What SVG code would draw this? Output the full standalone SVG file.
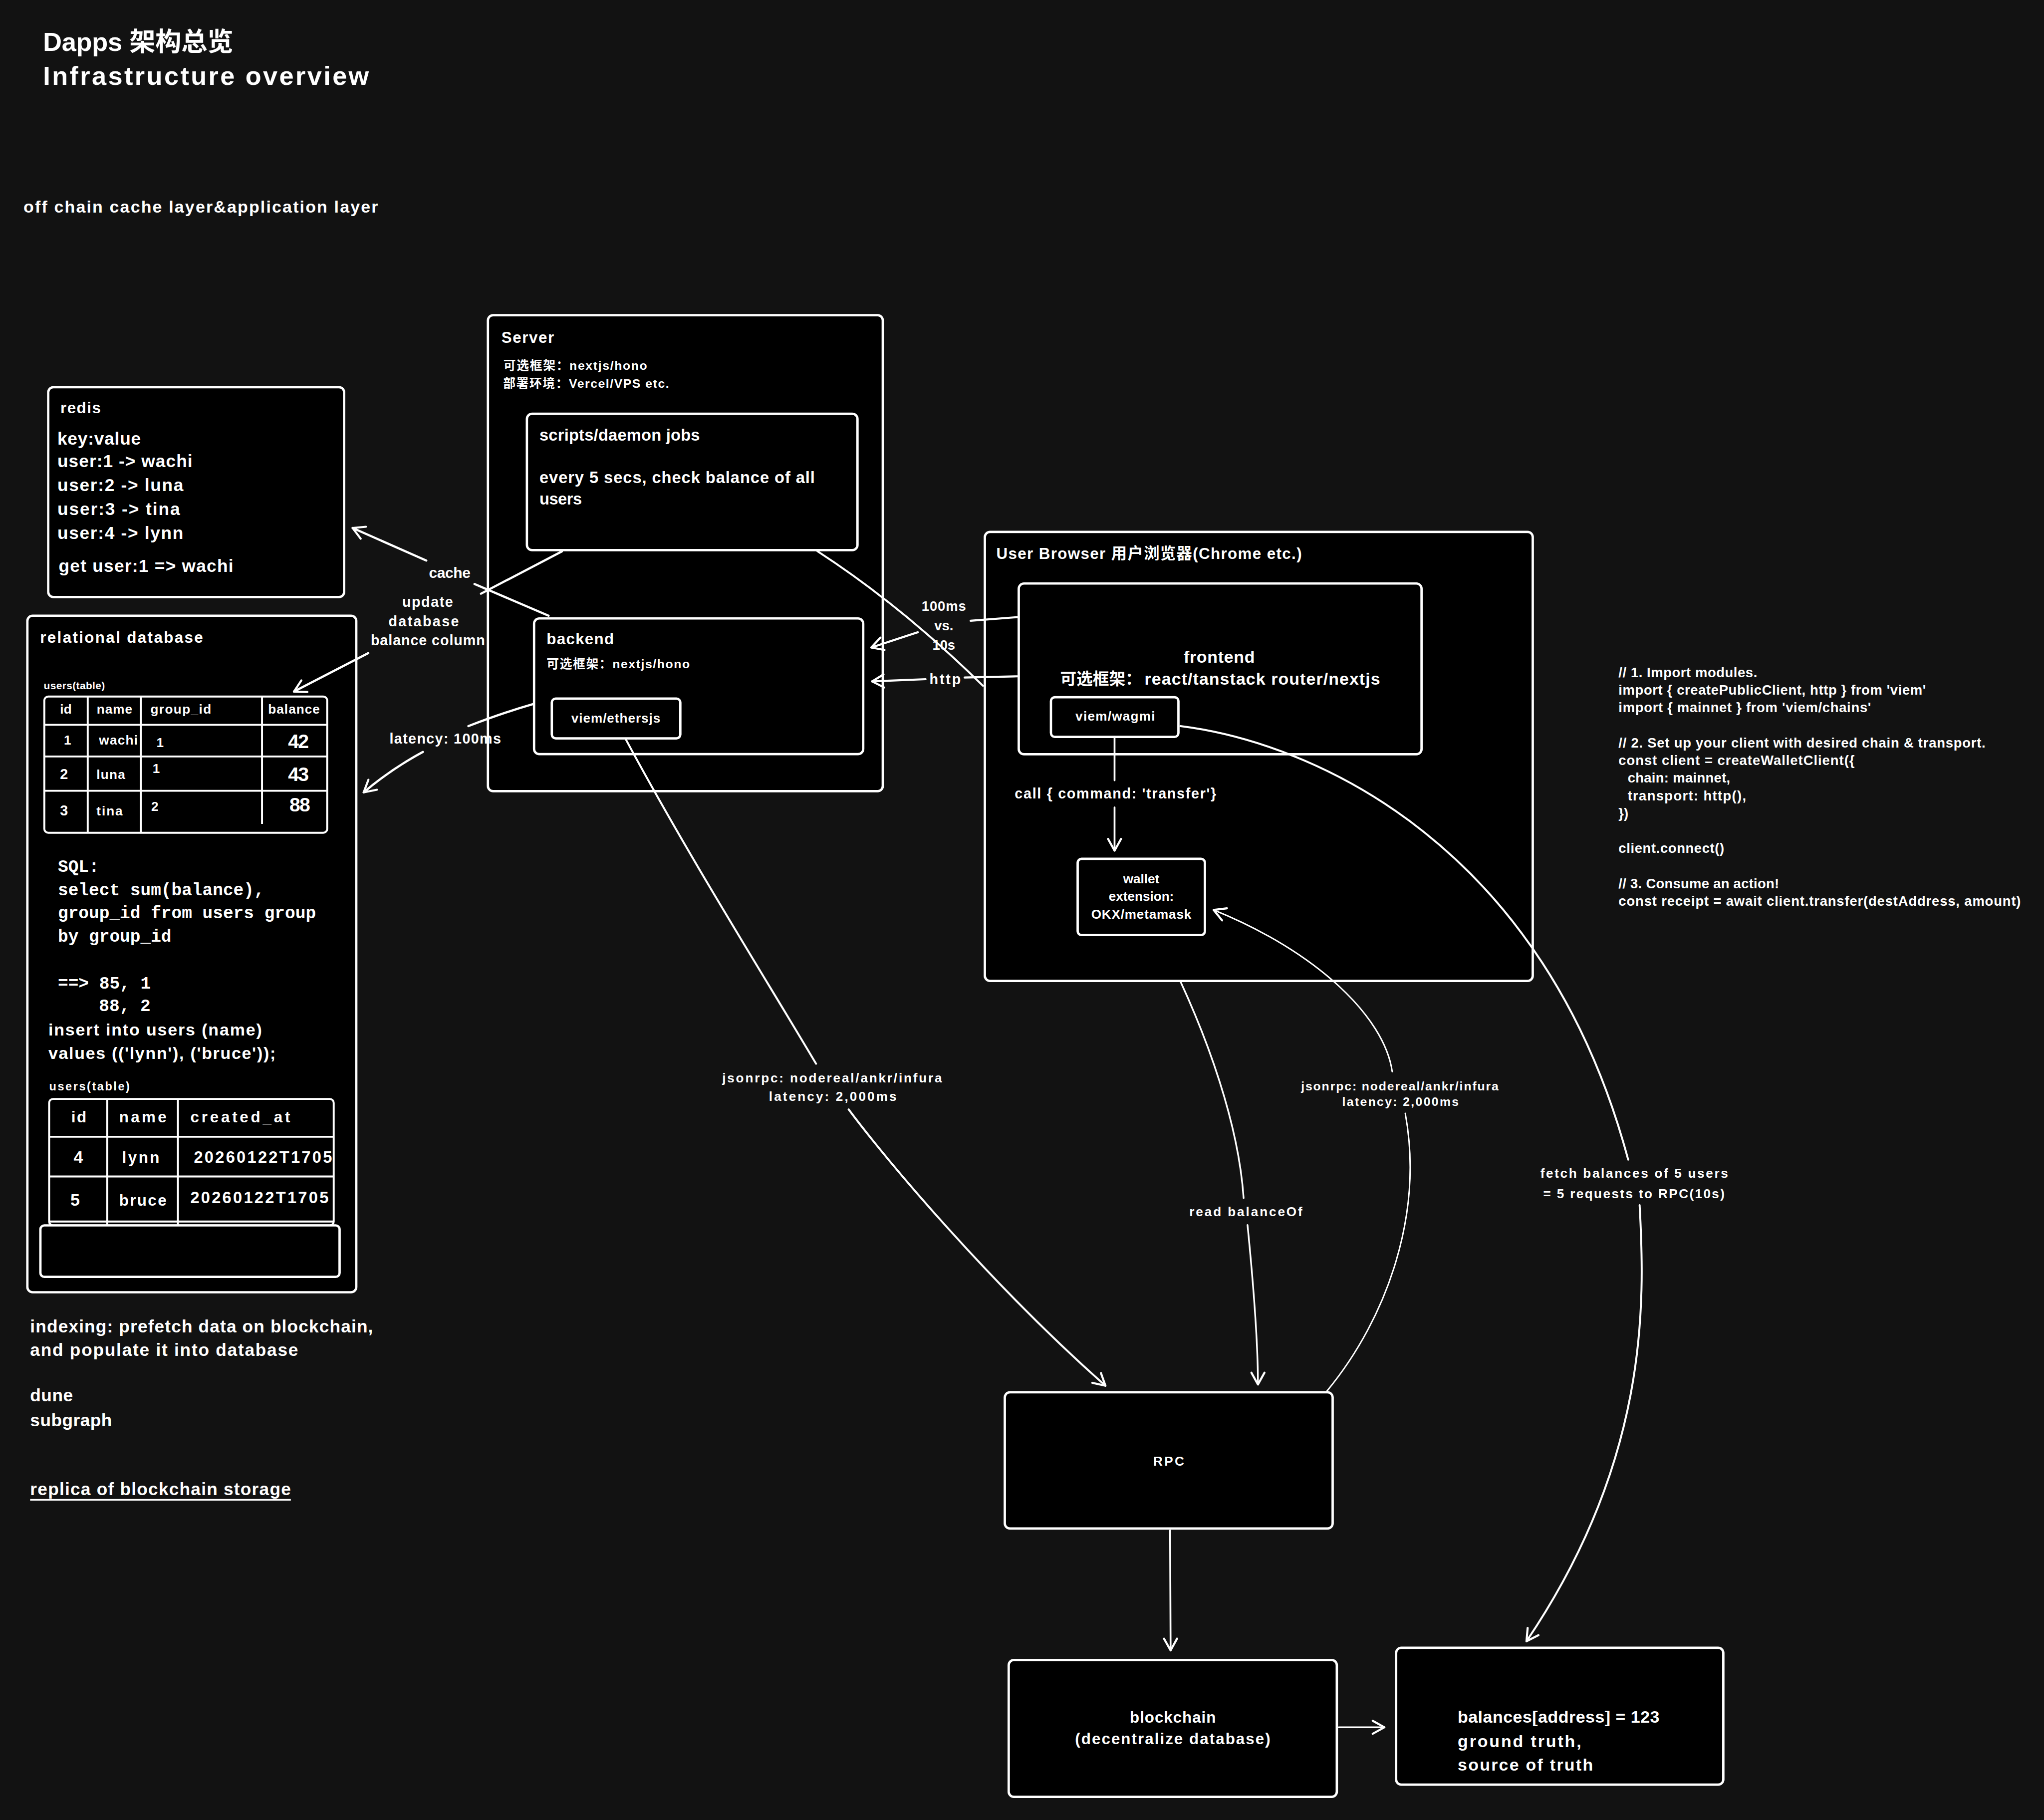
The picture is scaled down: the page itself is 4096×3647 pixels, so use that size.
<svg xmlns="http://www.w3.org/2000/svg" width="4096" height="3647" viewBox="0 0 4096 3647">
<style>
.t{fill:#fff;font-family:"Liberation Sans","Noto Sans CJK SC",sans-serif;font-weight:bold}
.m{fill:#fff;font-family:"Liberation Mono",monospace;font-weight:bold;font-size:13.2px}
.mid{text-anchor:middle}
.box{fill:#000;stroke:#fff;stroke-width:1.8}
.tbl{fill:none;stroke:#fff;stroke-width:1.5}
.c{fill:none;stroke:#fff;stroke-linecap:round;stroke-linejoin:round}
</style>
<defs>
<marker id="ah" viewBox="-11 -7 13 14" refX="0" refY="0" markerWidth="13" markerHeight="14" markerUnits="userSpaceOnUse" orient="auto" overflow="visible">
<path d="M-9,-5 L0,0 L-9,5" fill="none" stroke="#fff" stroke-width="1.6" stroke-linecap="round" stroke-linejoin="round"/>
</marker>
</defs>
<rect width="4096" height="3647" fill="#121212"/>
<g transform="scale(2.612245)">
<g id="title">
<text class="t" x="33" y="39" font-size="20" textLength="146">Dapps 架构总览</text>
<text class="t" x="33" y="65" font-size="20" textLength="250">Infrastructure overview</text>
<text class="t" x="18" y="163" font-size="13" textLength="272">off chain cache layer&amp;application layer</text>
</g>
<g id="redis">
<rect class="box" x="37" y="297" width="227" height="161" rx="4"/>
<text class="t" x="46.3" y="317" font-size="12" textLength="31">redis</text>
<text class="t" x="44" y="341" font-size="13.5" textLength="64">key:value</text>
<text class="t" x="44" y="358.5" font-size="13.5" textLength="103.6">user:1 -&gt; wachi</text>
<text class="t" x="44" y="376.7" font-size="13.5" textLength="96.6">user:2 -&gt; luna</text>
<text class="t" x="44" y="395" font-size="13.5" textLength="94">user:3 -&gt; tina</text>
<text class="t" x="44" y="413.4" font-size="13.5" textLength="96.6">user:4 -&gt; lynn</text>
<text class="t" x="45" y="438.6" font-size="13.5" textLength="134">get user:1 =&gt; wachi</text>
</g>
<g id="relational-database">
<rect class="box" x="21" y="472.3" width="252.3" height="519" rx="4"/>
<text class="t" x="30.7" y="493" font-size="12" textLength="125">relational database</text>
<text class="t" x="33.5" y="528.6" font-size="8" textLength="47">users(table)</text>
<rect class="tbl" x="34" y="534.3" width="217" height="104.5" rx="3"/>
<path class="tbl" d="M34,556 H251 M34,580.3 H251 M34,606.6 H251 M67.3,534.3 V638.8 M108,534.3 V638.8 M201,534.3 V632"/>
<text class="t" x="46" y="547.5" font-size="10" textLength="9">id</text>
<text class="t" x="74.2" y="547.5" font-size="10" textLength="27.3">name</text>
<text class="t" x="115.4" y="547.5" font-size="10" textLength="46.6">group_id</text>
<text class="t" x="205.7" y="547.5" font-size="10" textLength="39.6">balance</text>
<text class="t" x="49" y="571" font-size="10">1</text>
<text class="t" x="75.9" y="571" font-size="10" textLength="29.8">wachi</text>
<text class="t" x="120" y="573" font-size="10">1</text>
<text class="t" x="221" y="574" font-size="15" textLength="16">42</text>
<text class="t" x="46" y="597.5" font-size="11">2</text>
<text class="t" x="74" y="597.5" font-size="10" textLength="22">luna</text>
<text class="t" x="117" y="593" font-size="10">1</text>
<text class="t" x="221" y="599" font-size="15" textLength="16">43</text>
<text class="t" x="46" y="625.5" font-size="11">3</text>
<text class="t" x="74" y="625.5" font-size="10" textLength="20">tina</text>
<text class="t" x="116" y="622" font-size="10">2</text>
<text class="t" x="222" y="622.6" font-size="15" textLength="16">88</text>
<text class="m" x="44.4" y="668.8">SQL:</text>
<text class="m" x="44.4" y="686.7">select sum(balance),</text>
<text class="m" x="44.4" y="704.4">group_id from users group</text>
<text class="m" x="44.4" y="722.3">by group_id</text>
<text class="m" x="44.4" y="758.3">==&gt; 85, 1</text>
<text class="m" x="75.9" y="775.6">88, 2</text>
<text class="t" x="37.1" y="794.4" font-size="13" textLength="163.8">insert into users (name)</text>
<text class="t" x="37.1" y="812.3" font-size="13" textLength="174.3">values (('lynn'), ('bruce'));</text>
<text class="t" x="37.7" y="836.4" font-size="9" textLength="61.8">users(table)</text>
<rect class="tbl" x="37.7" y="843" width="218.3" height="97" rx="3"/>
<path class="tbl" d="M37.7,872 H256 M37.7,902.5 H256 M37.7,937 H256 M82.3,843 V940 M136.5,843 V940"/>
<text class="t" x="54.6" y="861" font-size="12" textLength="11.7">id</text>
<text class="t" x="91.4" y="861" font-size="12" textLength="36.3">name</text>
<text class="t" x="146" y="861" font-size="12" textLength="76.6">created_at</text>
<text class="t" x="56.5" y="892" font-size="13">4</text>
<text class="t" x="93.6" y="892" font-size="12" textLength="28.7">lynn</text>
<text class="t" x="148.7" y="892" font-size="12.5" textLength="106">20260122T1705</text>
<text class="t" x="54" y="925" font-size="13">5</text>
<text class="t" x="91.4" y="925" font-size="12" textLength="36.3">bruce</text>
<text class="t" x="146" y="923" font-size="12.5" textLength="106">20260122T1705</text>
<rect class="box" x="31" y="940" width="229.5" height="39.5" rx="3"/>
</g>
<g id="server">
<rect class="box" x="374.3" y="241.8" width="302.9" height="365.1" rx="4"/>
<text class="t" x="384.6" y="262.9" font-size="12" textLength="40.4">Server</text>
<text class="t" x="386.2" y="283.5" font-size="9.5" textLength="110.2">可选框架：nextjs/hono</text>
<text class="t" x="386" y="297.5" font-size="9.5" textLength="127.2">部署环境：Vercel/VPS etc.</text>
</g>
<g id="scripts">
<rect class="box" x="404.2" y="317.4" width="253.6" height="104.6" rx="4"/>
<text class="t" x="413.8" y="338" font-size="12.5" textLength="123.1">scripts/daemon jobs</text>
<text class="t" x="413.8" y="370.7" font-size="12.5" textLength="211.3">every 5 secs, check balance of all</text>
<text class="t" x="413.8" y="387.2" font-size="12.5" textLength="32.6">users</text>
</g>
<g id="backend">
<rect class="box" x="409.7" y="474.4" width="252.5" height="104.1" rx="4"/>
<text class="t" x="419.3" y="494.2" font-size="12" textLength="51.6">backend</text>
<text class="t" x="419.3" y="512.4" font-size="9.5" textLength="109.8">可选框架：nextjs/hono</text>
</g>
<g id="viem-ethersjs">
<rect class="box" x="423.3" y="535.9" width="98.6" height="30.5" rx="3"/>
<text class="t mid" x="472.4" y="554.3" font-size="10" textLength="68.3">viem/ethersjs</text>
</g>
<g id="user-browser">
<rect class="box" x="755.5" y="408" width="420.3" height="344.5" rx="4"/>
<text class="t" x="764.3" y="428.7" font-size="12" textLength="234.3">User Browser 用户浏览器(Chrome etc.)</text>
</g>
<g id="frontend">
<rect class="box" x="781.5" y="447.6" width="309" height="131" rx="4"/>
<text class="t mid" x="935.3" y="508.3" font-size="13" textLength="54.6">frontend</text>
<text class="t" x="813.3" y="525.2" font-size="12.5">可选框架：</text>
<text class="t" x="878" y="525.2" font-size="13" textLength="180.7">react/tanstack router/nextjs</text>
</g>
<g id="viem-wagmi">
<rect class="box" x="806.2" y="534.8" width="97.8" height="30.5" rx="3"/>
<text class="t mid" x="855.5" y="552.7" font-size="10" textLength="61">viem/wagmi</text>
</g>
<g id="wallet">
<rect class="box" x="826.7" y="658.8" width="97.6" height="58.5" rx="3"/>
<text class="t mid" x="875.5" y="677.4" font-size="10">wallet</text>
<text class="t mid" x="875.5" y="691.1" font-size="10">extension:</text>
<text class="t mid" x="875.5" y="704.9" font-size="10" textLength="76.8">OKX/metamask</text>
</g>
<g id="rpc">
<rect class="box" x="770.8" y="1068" width="251.5" height="104.5" rx="4"/>
<text class="t mid" x="896.5" y="1124.4" font-size="10" textLength="23.7">RPC</text>
</g>
<g id="blockchain">
<rect class="box" x="773.8" y="1273.4" width="251.7" height="105" rx="4"/>
<text class="t mid" x="899.7" y="1321.4" font-size="12" textLength="66">blockchain</text>
<text class="t mid" x="899.6" y="1338" font-size="12" textLength="149.8">(decentralize database)</text>
</g>
<g id="balances">
<rect class="box" x="1071" y="1264" width="251" height="105" rx="4"/>
<text class="t" x="1118.2" y="1321.5" font-size="13" textLength="154.8">balances[address] = 123</text>
<text class="t" x="1118.2" y="1340.3" font-size="13" textLength="94.8">ground truth,</text>
<text class="t" x="1118.2" y="1358.2" font-size="13" textLength="103.8">source of truth</text>
</g>
<g id="code">
<text class="t" x="1241.6" y="519.4" font-size="10.5" textLength="106.4">// 1. Import modules.</text>
<text class="t" x="1241.6" y="532.9" font-size="10.5" textLength="235.8">import { createPublicClient, http } from 'viem'</text>
<text class="t" x="1241.6" y="546.4" font-size="10.5" textLength="193.7">import { mainnet } from 'viem/chains'</text>
<text class="t" x="1241.6" y="573.4" font-size="10.5" textLength="281.5">// 2. Set up your client with desired chain &amp; transport.</text>
<text class="t" x="1241.6" y="586.9" font-size="10.5" textLength="181.1">const client = createWalletClient({</text>
<text class="t" x="1248.6" y="600.4" font-size="10.5" textLength="78.7">chain: mainnet,</text>
<text class="t" x="1248.6" y="613.9" font-size="10.5" textLength="90.9">transport: http(),</text>
<text class="t" x="1241.6" y="627.3" font-size="10.5">})</text>
<text class="t" x="1241.6" y="654.3" font-size="10.5" textLength="81.1">client.connect()</text>
<text class="t" x="1241.6" y="681.3" font-size="10.5" textLength="123.2">// 3. Consume an action!</text>
<text class="t" x="1241.6" y="694.8" font-size="10.5" textLength="308.6">const receipt = await client.transfer(destAddress, amount)</text>
</g>
<g id="indexing-notes">
<text class="t" x="23.1" y="1022" font-size="13.5" textLength="263">indexing: prefetch data on blockchain,</text>
<text class="t" x="23.1" y="1040" font-size="13.5" textLength="205.6">and populate it into database</text>
<text class="t" x="23.1" y="1075" font-size="13.5" textLength="32.8">dune</text>
<text class="t" x="23.1" y="1094" font-size="13.5" textLength="62.8">subgraph</text>
<text class="t" x="23.1" y="1147" font-size="13.5" textLength="200">replica of blockchain storage</text>
<path d="M23.1,1150.5 H223.1" stroke="#fff" stroke-width="1.3"/>
</g>
<g id="connectors">
<path class="c" stroke-width="1.7" d="M420.8,472.3 L364,448"/>
<path class="c" stroke-width="1.7" d="M327,430 L270.5,405" marker-end="url(#ah)"/>
<text class="t mid" x="345" y="443.2" font-size="11.5" textLength="32">cache</text>
<path class="c" stroke-width="1.7" d="M431,423 L369,455.4"/>
<path class="c" stroke-width="1.7" d="M282.5,501 L225.5,530.5" marker-end="url(#ah)"/>
<text class="t mid" x="328" y="465.5" font-size="11" textLength="39">update</text>
<text class="t mid" x="325" y="480.4" font-size="11" textLength="54">database</text>
<text class="t mid" x="328.2" y="494.9" font-size="11" textLength="87.6">balance column</text>
<path class="c" stroke-width="1.7" d="M408.6,540.2 Q385,547 359.3,557"/>
<path class="c" stroke-width="1.7" d="M324.4,576.8 Q300,590 279,607.8" marker-end="url(#ah)"/>
<text class="t" x="298.8" y="570.4" font-size="11" textLength="85.5">latency: 100ms</text>
<path class="c" stroke-width="1.6" d="M780.5,473.4 L744.6,476.2"/>
<path class="c" stroke-width="1.6" d="M704,485 L668.4,496.7" marker-end="url(#ah)"/>
<text class="t mid" x="724" y="468.5" font-size="10.5" textLength="34">100ms</text>
<text class="t mid" x="724" y="483.5" font-size="10.5">vs.</text>
<text class="t mid" x="724" y="498.5" font-size="10.5">10s</text>
<path class="c" stroke-width="1.6" d="M780.5,518.8 L740,519.7"/>
<path class="c" stroke-width="1.6" d="M710,521 L669,522.7" marker-end="url(#ah)"/>
<text class="t mid" x="725" y="525" font-size="11" textLength="24">http</text>
<path class="c" stroke-width="1.5" d="M627,422.8 Q692,465 754,526"/>
<path class="c" stroke-width="1.5" d="M480,567 C530,660 590,755 626,816"/>
<path class="c" stroke-width="1.5" d="M651,851 C680,890 760,985 848,1063" marker-end="url(#ah)"/>
<text class="t mid" x="638.3" y="830.5" font-size="10" textLength="168.6">jsonrpc: nodereal/ankr/infura</text>
<text class="t mid" x="638.8" y="844.5" font-size="10" textLength="97.9">latency: 2,000ms</text>
<path class="c" stroke-width="1.5" d="M905.6,557 C1010,570 1185,650 1249,889.6"/>
<path class="c" stroke-width="1.5" d="M1257.8,924.5 C1262,1000 1265,1120 1171,1259" marker-end="url(#ah)"/>
<text class="t mid" x="1253.6" y="903.5" font-size="10" textLength="144">fetch balances of 5 users</text>
<text class="t mid" x="1253.4" y="919" font-size="10" textLength="139.2">= 5 requests to RPC(10s)</text>
<path class="c" stroke-width="1.3" d="M905.6,753 C925,795 950,860 954,919"/>
<path class="c" stroke-width="1.3" d="M957,939.7 C962,990 965,1030 965,1062" marker-end="url(#ah)"/>
<text class="t mid" x="955.7" y="933" font-size="10" textLength="86.7">read balanceOf</text>
<path class="c" stroke-width="1.1" d="M1018,1067 C1065,1010 1092,930 1078,854"/>
<path class="c" stroke-width="1.1" d="M1068,822 C1062,780 1010,730 931,698" marker-end="url(#ah)"/>
<text class="t mid" x="1073.8" y="836.4" font-size="9.5" textLength="151.5">jsonrpc: nodereal/ankr/infura</text>
<text class="t mid" x="1074.3" y="848.5" font-size="9.5" textLength="89.4">latency: 2,000ms</text>
<path class="c" stroke-width="1.4" d="M855,565.3 L855,598.6"/>
<path class="c" stroke-width="1.4" d="M855,619.3 L855,652.5" marker-end="url(#ah)"/>
<text class="t mid" x="855.7" y="612.4" font-size="11" textLength="154.6">call { command: 'transfer'}</text>
<path class="c" stroke-width="1.4" d="M897.6,1174 L898,1266" marker-end="url(#ah)"/>
<path class="c" stroke-width="1.4" d="M1027,1325 L1062,1325" marker-end="url(#ah)"/>
</g>
</g>
</svg>
